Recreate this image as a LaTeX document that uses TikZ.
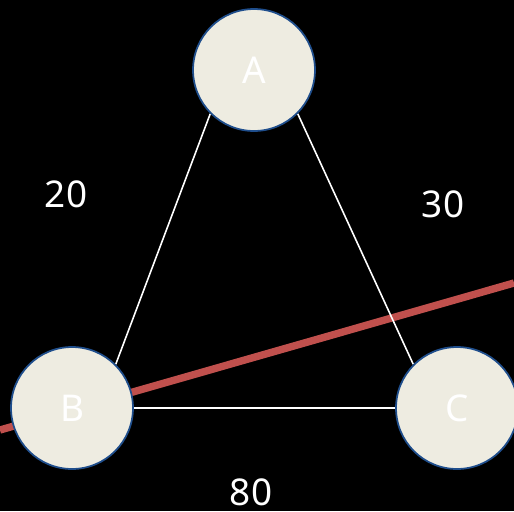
\documentclass[tikz,border=0pt]{standalone}
\usepackage{fontspec}
\setmainfont{Noto Sans}
\definecolor{NodeFill}{HTML}{EEECE1}
\definecolor{NodeLine}{HTML}{1F4E8C}
\definecolor{CutLine}{HTML}{C0504D}
\usetikzlibrary{positioning,backgrounds}

\begin{document}
\begin{tikzpicture}[
    x=0.02cm, y=-0.02cm,
    vertex/.style={
        circle,
        draw=NodeLine,
        line width=1pt,
        fill=NodeFill,
        minimum size=2.44cm,
        inner sep=0pt,
        text=white,
        font=\fontsize{21}{25}\selectfont
    },
    edge/.style={white, line width=0.9pt},
    cut/.style={CutLine, line width=4.2pt},
    weight/.style={
        text=white,
        inner sep=1pt,
        font=\fontsize{21}{25}\selectfont
    }
]

% ---------------------------------------------------------
% Vertici e pesi
% ---------------------------------------------------------

\useasboundingbox (0,0) rectangle (514,511);

\coordinate (cutl) at (0,430);
\coordinate (cutr) at (514,283);

\node[vertex] (A) at (254,70) {A};
\node[vertex] (B) at (72,408) {B};
\node[vertex] (C) at (457,408) {C};

\node[weight] (wab) at (66,194) {20};
\node[weight] (wac) at (443,204) {30};
\node[weight] (wbc) at (251,492) {80};

% ---------------------------------------------------------
% Sfondo, archi e taglio
% ---------------------------------------------------------

\begin{scope}[on background layer]
\fill[black] (0,0) rectangle (514,511);
\draw[cut] (cutl) -- (cutr);
\draw[edge] (A.south west) -- (B.north east);
\draw[edge] (A.south east) -- (C.north west);
\draw[edge] (B.east) -- (C.west);
\end{scope}

\end{tikzpicture}
\end{document}
